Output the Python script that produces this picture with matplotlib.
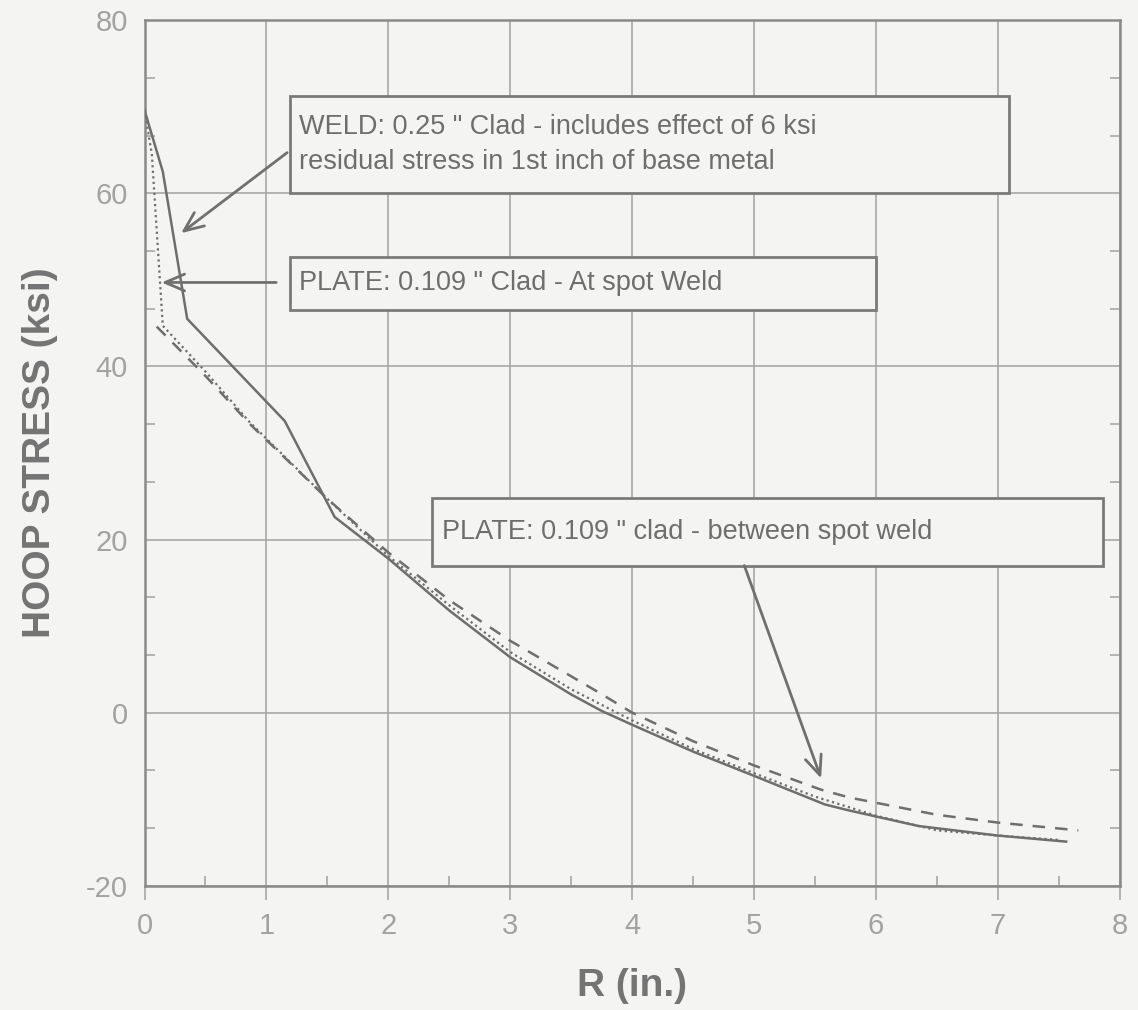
import matplotlib.pyplot as plt
from matplotlib.patches import Rectangle
from matplotlib.ticker import MultipleLocator

plt.rcParams['axes.unicode_minus'] = False

# Hoop stress vs radial distance
weld_r = [0, 0.15, 0.35, 1.15, 1.56, 2.0, 2.5, 3.0, 3.5, 3.75, 4.0, 4.5, 5.0, 5.58, 5.78, 6.35, 7.0, 7.56]
weld_s = [69.6, 62.5, 45.5, 33.7, 22.6, 17.8, 11.8, 6.4, 2.1, 0.2, -1.4, -4.5, -7.3, -10.6, -11.3, -13.1, -14.2, -14.9]

spot_r = [0, 0.06, 0.15, 0.5, 0.86, 1.5, 2.0, 2.5, 3.0, 3.5, 4.0, 4.5, 5.0, 5.5, 6.0, 6.5, 7.0, 7.5]
spot_s = [69.6, 64.5, 44.7, 39.4, 33.6, 24.7, 18.1, 12.4, 7.0, 2.7, -0.9, -4.2, -7.0, -9.7, -11.9, -13.6, -14.2, -14.7]

between_r = [0.1, 0.5, 0.86, 1.5, 2.0, 2.5, 3.0, 3.5, 3.73, 4.0, 4.5, 5.0, 5.55, 5.78, 6.5, 7.0, 7.66]
between_s = [44.6, 38.9, 33.4, 24.7, 18.5, 13.0, 8.3, 4.2, 2.3, 0.0, -3.3, -6.1, -8.9, -9.8, -11.8, -12.7, -13.6]

weld_text = 'WELD: 0.25 " Clad - includes effect of 6 ksi\nresidual stress in 1st inch of base metal'
spot_text = 'PLATE: 0.109 " Clad - At spot Weld'
between_text = 'PLATE: 0.109 " clad - between spot weld'

ink = '#6e6e6e'
grid_c = '#a8a8a8'
bg = '#f4f4f2'
narrow = ['Liberation Sans Narrow', 'Liberation Sans', 'DejaVu Sans']

fig = plt.figure(figsize=(11.38, 10.10), dpi=100, facecolor=bg)
ax = fig.add_axes([0.127, 0.123, 0.857, 0.857], facecolor=bg)

ax.plot(weld_r, weld_s, color=ink, lw=1.8, ls='-', zorder=3)
ax.plot(spot_r, spot_s, color=ink, lw=1.6, ls=(0, (1, 1.5)), zorder=3)
ax.plot(between_r, between_s, color=ink, lw=1.8, ls=(0, (5, 4)), zorder=3)

ax.set_xlim(0, 8)
ax.set_ylim(-20, 80)
ax.xaxis.set_major_locator(MultipleLocator(1))
ax.xaxis.set_minor_locator(MultipleLocator(0.5))
ax.yaxis.set_major_locator(MultipleLocator(20))
ax.yaxis.set_minor_locator(MultipleLocator(20 / 3))
ax.grid(True, which='major', color=grid_c, lw=1.2)

ax.tick_params(axis='x', which='major', direction='out', length=10, width=1.2, color=grid_c,
               labelsize=21, labelcolor='#a2a2a2', pad=9)
ax.tick_params(axis='y', which='major', length=0, labelsize=21, labelcolor='#a2a2a2', pad=12)
ax.tick_params(which='minor', direction='in', length=7, width=1.2, color=grid_c,
               left=True, right=True, bottom=True, top=False)
for lab in ax.get_xticklabels() + ax.get_yticklabels():
    lab.set_fontfamily('Liberation Sans')
for sp in ax.spines.values():
    sp.set_color('#8a8a8a')
    sp.set_linewidth(1.8)

ax.set_xlabel('R (in.)', fontsize=28, color='#747474', fontweight='bold', family=narrow, labelpad=20)
ax.set_ylabel('HOOP STRESS (ksi)', fontsize=28, color='#747474', fontweight='bold', family=narrow, labelpad=20)

# annotation boxes (data coordinates)
boxes = [
    (1.19, 60.0, 7.09, 71.3, weld_text),
    (1.19, 46.5, 6.0, 52.7, spot_text),
    (2.36, 17.0, 7.86, 24.8, between_text),
]
for x0, y0, x1, y1, txt in boxes:
    ax.add_patch(Rectangle((x0, y0), x1 - x0, y1 - y0, facecolor=bg, edgecolor='#7a7a7a',
                           lw=2, zorder=4))
    ax.text(x0 + 0.08, (y0 + y1) / 2, txt, ha='left', va='center', fontsize=19.5, color=ink,
            family=narrow, linespacing=1.45, zorder=5)

arrow = dict(arrowstyle='->,head_length=1.4,head_width=0.6', color='#707070', lw=2,
             shrinkA=0, shrinkB=0)
ax.annotate('', xy=(0.30, 55.4), xytext=(1.17, 64.7), arrowprops=arrow, zorder=5)
ax.annotate('', xy=(0.14, 49.7), xytext=(1.08, 49.7), arrowprops=arrow, zorder=5)
ax.annotate('', xy=(5.55, -7.6), xytext=(4.92, 17.0), arrowprops=arrow, zorder=5)

fig.savefig('out.png', dpi=100, facecolor=bg)
